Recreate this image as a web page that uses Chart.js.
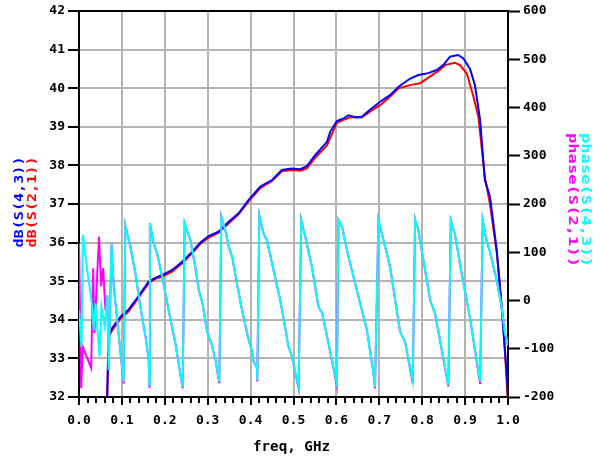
<!DOCTYPE html>
<html><head><meta charset="utf-8">
<script src="https://cdn.jsdelivr.net/npm/chart.js@4.4.1/dist/chart.umd.min.js"></script>
<style>html,body{margin:0;padding:0;background:#fff;overflow:hidden}#wrap{width:601px;height:456px}</style>
</head><body><div id="wrap"><canvas id="c" width="601" height="456"></canvas></div>
<script>
// ---- data ----
const xTickValues = [0,0.1,0.2,0.3,0.4,0.5,0.6,0.7,0.8,0.9,1.0];
const yLeftRange = [32, 42];
const yRightRange = [-200, 600];

const fDb43 = [0.0657,0.069,0.077,0.0967,0.116,0.1355,0.1626,0.18,0.194,0.217,0.24,0.2635,0.283,0.302,0.325,0.349,0.372,0.395,0.4226,0.45,0.473,0.495,0.516,0.531,0.551,0.578,0.5856,0.601,0.617,0.628,0.645,0.659,0.679,0.702,0.725,0.745,0.772,0.791,0.8145,0.834,0.849,0.865,0.884,0.896,0.9115,0.923,0.935,0.946,0.958,0.9737,0.985,0.997,1.0];
const db43 = [32,33.6,33.78,34.08,34.27,34.56,34.99,35.1,35.16,35.29,35.5,35.76,36.0,36.17,36.28,36.54,36.76,37.1,37.45,37.62,37.88,37.92,37.9,37.98,38.27,38.61,38.87,39.15,39.22,39.3,39.25,39.26,39.45,39.65,39.82,40.04,40.25,40.34,40.39,40.47,40.6,40.82,40.86,40.77,40.5,40.08,39.18,37.62,37.19,35.81,34.34,32.61,32.0];

const fDb21 = [0.0657,0.069,0.077,0.0967,0.116,0.1355,0.1626,0.18,0.194,0.217,0.24,0.2635,0.283,0.302,0.325,0.349,0.372,0.395,0.4226,0.45,0.473,0.495,0.516,0.531,0.551,0.578,0.601,0.617,0.633,0.659,0.686,0.702,0.721,0.745,0.772,0.795,0.818,0.841,0.853,0.876,0.888,0.904,0.919,0.931,0.946,0.958,0.974,0.989,0.999];
const db21 = [32,33.55,33.72,34.03,34.22,34.52,34.95,35.07,35.12,35.25,35.46,35.72,35.97,36.13,36.25,36.5,36.73,37.06,37.41,37.6,37.85,37.88,37.86,37.92,38.2,38.52,39.1,39.18,39.25,39.24,39.45,39.56,39.74,40.0,40.08,40.13,40.3,40.47,40.6,40.66,40.6,40.38,39.8,39.26,37.7,37.0,35.73,33.92,32.0];

const fPh43 = [0,0.0058,0.0088,0.019,0.029,0.0345,0.0384,0.0477,0.0524,0.060,0.0657,0.0694,0.0757,0.081,0.089,0.104,0.108,0.12,0.1315,0.143,0.155,0.1625,0.164,0.1653,0.174,0.182,0.194,0.209,0.2247,0.236,0.2417,0.2463,0.2596,0.271,0.279,0.288,0.2985,0.3085,0.318,0.327,0.3318,0.341,0.349,0.357,0.368,0.380,0.3953,0.403,0.407,0.415,0.4156,0.4203,0.430,0.438,0.4535,0.469,0.4885,0.4964,0.5118,0.518,0.5274,0.543,0.558,0.5667,0.5816,0.601,0.605,0.613,0.628,0.6515,0.671,0.6864,0.690,0.698,0.706,0.725,0.7485,0.760,0.778,0.7835,0.791,0.8184,0.830,0.861,0.8666,0.8766,0.892,0.911,0.935,0.941,0.9505,0.958,0.9737,0.985,0.993,1.0];
const ph43 = [-20,-96,136,63,1,-61,-6,-116,-13,-54,11,-144,118,29,-40,-168,156,111,56,-13,-75,-123,-175,160,118,98,49,-20,-89,-151,-179,160,125,70,22,-6,-65,-89,-123,-168,174,146,111,91,36,-20,-82,-103,-127,-140,-165,177,139,125,63,1,-96,-116,-179,167,132,70,-13,-26,-89,-172,167,153,91,8,-61,-151,-179,167,139,70,-65,-85,-168,168,146,1,-27,-175,165,136,56,-34,-168,166,122,101,42,-13,-68,-93];

const fPh21 = [0,0.005,0.0088,0.0284,0.033,0.036,0.0466,0.0517,0.0563,0.0617,0.0657,0.0694,0.0757,0.081,0.089,0.104,0.108,0.12,0.1315,0.143,0.155,0.1625,0.164,0.1653,0.174,0.182,0.194,0.209,0.2247,0.236,0.2417,0.2463,0.2596,0.271,0.279,0.288,0.2985,0.3085,0.318,0.327,0.3318,0.341,0.349,0.357,0.368,0.380,0.3953,0.403,0.407,0.415,0.4156,0.4203,0.430,0.438,0.4535,0.469,0.4885,0.4964,0.5118,0.518,0.5274,0.543,0.558,0.5667,0.5816,0.601,0.605,0.613,0.628,0.6515,0.671,0.6864,0.690,0.698,0.706,0.725,0.7485,0.760,0.778,0.7835,0.791,0.8184,0.830,0.861,0.8666,0.8766,0.892,0.911,0.935,0.941,0.9505,0.958,0.9737,0.985,0.993,1.0];
const ph21 = [118,-182,-96,-140,67,-68,132,29,67,-20,11,-144,118,29,-40,-172,156,111,56,-13,-75,-123,-178,160,118,98,49,-20,-89,-151,-182,160,125,70,22,-6,-65,-89,-123,-171,174,146,111,91,36,-20,-82,-103,-127,-140,-168,177,139,125,63,1,-96,-116,-182,167,132,70,-13,-26,-89,-176,167,153,91,8,-61,-151,-182,167,139,70,-65,-85,-172,168,146,1,-27,-178,165,136,56,-34,-173,166,122,101,42,-13,-68,-93];

// ---- rendering ----
const FONT = "'DejaVu Sans Mono', monospace";
const GRID = '#b4b4b4';
function pts(xs, ys) { return xs.map((x, i) => ({ x: x, y: ys[i] })); }

function fitText(ctx, text, cx, cy, rot, len, size, color) {
  ctx.save();
  ctx.translate(cx, cy);
  ctx.rotate(rot);
  ctx.font = 'bold ' + size + 'px ' + FONT;
  const w = ctx.measureText(text).width;
  ctx.scale(len / w, 1);
  ctx.textAlign = 'center';
  ctx.textBaseline = 'middle';
  ctx.fillStyle = color;
  ctx.fillText(text, 0, 0);
  ctx.restore();
}

const decor = {
  id: 'decor',
  afterDraw(chart) {
    const ctx = chart.ctx, a = chart.chartArea, xs = chart.scales.x;
    ctx.save();
    ctx.strokeStyle = '#000';
    ctx.lineWidth = 2;
    // minor x ticks
    for (let k = 1; k < 50; k++) {
      if (k % 5 === 0) continue;
      const px = Math.round(xs.getPixelForValue(k / 50));
      ctx.beginPath(); ctx.moveTo(px, a.bottom); ctx.lineTo(px, a.bottom + 6); ctx.stroke();
    }
    // top frame line
    ctx.beginPath(); ctx.moveTo(a.left - 1, Math.round(a.top)); ctx.lineTo(a.right + 1, Math.round(a.top)); ctx.stroke();
    ctx.restore();
    // axis titles
    fitText(ctx, 'dB(S(4,3))', 20, 202, -Math.PI / 2, 91, 13, '#0000ff');
    fitText(ctx, 'dB(S(2,1))', 32.5, 202, -Math.PI / 2, 91, 13, '#ff0000');
    fitText(ctx, 'phase(S(4,3))', 585, 200, Math.PI / 2, 134, 13, '#00ffff');
    fitText(ctx, 'phase(S(2,1))', 572, 200, Math.PI / 2, 134, 13, '#ff00ff');
    fitText(ctx, 'freq, GHz', 291.5, 447, 0, 77, 14, '#000000');
  }
};

const ds = (label, data, color, axis, order) => ({
  label, data, borderColor: color, backgroundColor: color, borderWidth: 2,
  pointRadius: 0, showLine: true, tension: 0, yAxisID: axis, order, fill: false
});

new Chart(document.getElementById('c'), {
  type: 'scatter',
  data: {
    datasets: [
      ds('dB(S(2,1))', pts(fDb21, db21), '#ff0000', 'y', 3),
      ds('dB(S(4,3))', pts(fDb43, db43), '#0000ff', 'y', 2),
      ds('phase(S(2,1))', pts(fPh21, ph21), '#ff00ff', 'y1', 1),
      ds('phase(S(4,3))', pts(fPh43, ph43), '#00ffff', 'y1', 0)
    ]
  },
  options: {
    responsive: false,
    animation: false,
    devicePixelRatio: 1,
    layout: { padding: { top: 11, left: 0, right: 0, bottom: 0 } },
    plugins: { legend: { display: false }, tooltip: { enabled: false } },
    scales: {
      x: {
        type: 'linear', min: 0, max: 1,
        afterBuildTicks: (s) => { s.ticks = xTickValues.map(v => ({ value: v })); },
        afterFit: (s) => { s.height = 59; },
        ticks: { callback: (v) => Number(v).toFixed(1), color: '#000', font: { family: FONT, size: 13, weight: 'bold' }, padding: 8, maxRotation: 0, autoSkip: false },
        grid: { color: GRID, lineWidth: 2, drawTicks: true, tickLength: 8, tickColor: '#000', tickWidth: 2 },
        border: { display: true, color: '#000', width: 2 }
      },
      y: {
        type: 'linear', position: 'left', min: yLeftRange[0], max: yLeftRange[1],
        ticks: { stepSize: 1, color: '#000', font: { family: FONT, size: 13, weight: 'bold' }, padding: 3 },
        afterFit: (s) => { s.width = 79; },
        grid: { color: GRID, lineWidth: 2, drawTicks: true, tickLength: 11, tickColor: '#000', tickWidth: 2 },
        border: { display: true, color: '#000', width: 2 }
      },
      y1: {
        type: 'linear', position: 'right', min: yRightRange[0], max: yRightRange[1],
        ticks: { stepSize: 100, color: '#000', font: { family: FONT, size: 13, weight: 'bold' }, padding: 3 },
        afterFit: (s) => { s.width = 93; },
        grid: { display: true, drawOnChartArea: false, drawTicks: true, tickLength: 12, tickColor: '#000', tickWidth: 2 },
        border: { display: true, color: '#000', width: 2 }
      }
    }
  },
  plugins: [decor]
});
</script>
</body></html>
